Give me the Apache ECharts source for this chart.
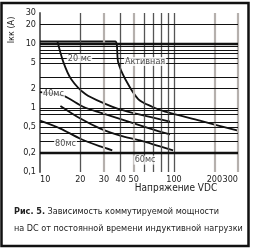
<!DOCTYPE html>
<html><head><meta charset="utf-8">
<script src="https://cdn.jsdelivr.net/npm/echarts@6/dist/echarts.min.js"></script>
<style>html,body{margin:0;padding:0;background:#fff}#c{width:253px;height:250px}</style>
</head><body><div id="c"></div>
<script>
// Voltage (V) / current (A) readings per curve
const resV = [10, 36.4, 38.3, 43.3, 54.0, 68.6, 85.7, 156, 300];
const resI = [10.8, 10.8, 5.11, 2.79, 1.37, 1.04, 0.87, 0.63, 0.44];
const v20 = [13.5, 14.96, 17.1, 21.8, 30.7, 38.3, 55.9, 93.4];
const i20 = [10.8, 5.11, 2.79, 1.64, 1.15, 0.965, 0.78, 0.61];
const v40 = [10, 14.96, 21.0, 28.2, 43.3, 66.3, 93.4];
const i40 = [1.76, 1.53, 1.04, 0.84, 0.63, 0.475, 0.385];
const v60 = [14.2, 20.0, 28.2, 39.7, 55.9, 78.7, 98.4];
const i60 = [1.07, 0.68, 0.475, 0.37, 0.31, 0.25, 0.218];
const v80 = [10, 14.2, 20.0, 28.2, 34.6];
const i80 = [0.63, 0.475, 0.33, 0.25, 0.218];
// tick labels and grid values
const xTicks = [10, 20, 30, 40, 50, 100, 200, 300];
const yTicks = [0.1, 0.2, 0.5, 1, 2, 5, 10, 20, 30];
const xGrid = [20, 30, 40, 50, 60, 70, 80, 90, 100, 200, 300];
const xGridLight = [30, 50, 200, 300];
const yGrid = [0.2, 0.3, 0.4, 0.5, 0.6, 0.8, 0.9, 1, 2, 3, 5, 6, 7, 8, 9, 10, 20];
const yGridThick = [10, 0.2];
// curve annotations: text, V, I
const noteText = ['20 мс', 'Активная', '40мс', '80мс', '60мс'];
const noteV = [19.7, 60.8, 12.6, 15.5, 60.8];
const noteI = [5.88, 5.28, 1.64, 0.28, 0.153];

const FONT = '"DejaVu Sans Condensed", "Liberation Sans Narrow", "DejaVu Sans", sans-serif';
const zip = (a, b) => a.map((x, k) => [x, b[k]]);

const gridLines = [];
xGrid.forEach(v => {
  const light = xGridLight.includes(v);
  gridLines.push({ xAxis: v, lineStyle: { color: light ? '#b5b0ad' : '#555', width: light ? 2.2 : 1.3, type: 'solid' } });
});
yGrid.forEach(v => {
  const thick = yGridThick.includes(v);
  gridLines.push({ yAxis: v, lineStyle: { color: '#111', width: thick ? 2.4 : 1, type: 'solid' } });
});

const curve = (name, v, i) => ({
  name, type: 'line', data: zip(v, i), showSymbol: false, symbol: 'none',
  smooth: 0.3, z: 4,
  lineStyle: { color: '#111', width: 1.8 }
});

const chart = echarts.init(document.getElementById('c'), null, { renderer: 'canvas' });
chart.setOption({
  animation: false,
  backgroundColor: '#fff',
  grid: { left: 40, right: 15, top: 13, bottom: 78 },
  xAxis: {
    type: 'log', logBase: 10, min: 10, max: 300,
    axisLine: { show: false },
    axisTick: { show: false },
    splitLine: { show: false },
    minorSplitLine: { show: false },
    axisLabel: {
      customValues: xTicks, margin: 3, fontSize: 9, color: '#222', fontFamily: FONT,
      alignMinLabel: 'left', alignMaxLabel: 'right', showMinLabel: true, showMaxLabel: true
    }
  },
  yAxis: {
    type: 'log', logBase: 10, min: 0.1, max: 30,
    axisLine: { show: true, onZero: false, lineStyle: { color: '#666', width: 2 } },
    axisTick: { show: false },
    splitLine: { show: false },
    axisLabel: {
      customValues: yTicks, margin: 4, fontSize: 9, color: '#222', fontFamily: FONT,
      formatter: v => String(v).replace('.', ','), showMinLabel: true, showMaxLabel: true
    }
  },
  series: [
    {
      type: 'line', data: [[10, 0.1]], symbol: 'none', lineStyle: { opacity: 0 }, z: 1, silent: true,
      markLine: { symbol: 'none', silent: true, animation: false, label: { show: false }, data: gridLines }
    },
    curve('Активная', resV, resI),
    curve('20 мс', v20, i20),
    curve('40мс', v40, i40),
    curve('60мс', v60, i60),
    curve('80мс', v80, i80),
    {
      type: 'scatter', z: 6, symbolSize: 0,
      data: noteText.map((t, k) => ({ value: [noteV[k], noteI[k]], name: t })),
      label: {
        show: true, position: 'inside', formatter: p => p.name,
        fontSize: 9, color: '#222', fontFamily: FONT,
        backgroundColor: '#fff', padding: [0, 1]
      }
    }
  ],
  graphic: [
    { type: 'rect', shape: { x: 1.5, y: 3, width: 247, height: 243 }, style: { fill: 'none', stroke: '#111', lineWidth: 2.5 }, z: 10 },
    { type: 'text', x: 12, y: 30, rotation: Math.PI / 2, style: { text: 'Iкк (А)', font: '9px ' + FONT, fill: '#222', align: 'center', verticalAlign: 'middle' } },
    { type: 'text', x: 176, y: 188, style: { text: 'Напряжение VDC', font: '10px ' + FONT, fill: '#222', align: 'center', verticalAlign: 'middle' } },
    { type: 'text', x: 14, y: 212, style: {
        text: '{b|Рис. 5.} Зависимость коммутируемой мощности',
        font: '9px ' + FONT, fill: '#222', verticalAlign: 'middle',
        rich: { b: { fontWeight: 'bold', fontSize: 9, fontFamily: FONT, fill: '#222' } }
    } },
    { type: 'text', x: 14, y: 229, style: { text: 'на DC от постоянной времени индуктивной нагрузки', font: '9px ' + FONT, fill: '#222', verticalAlign: 'middle' } }
  ]
});
</script></body></html>
